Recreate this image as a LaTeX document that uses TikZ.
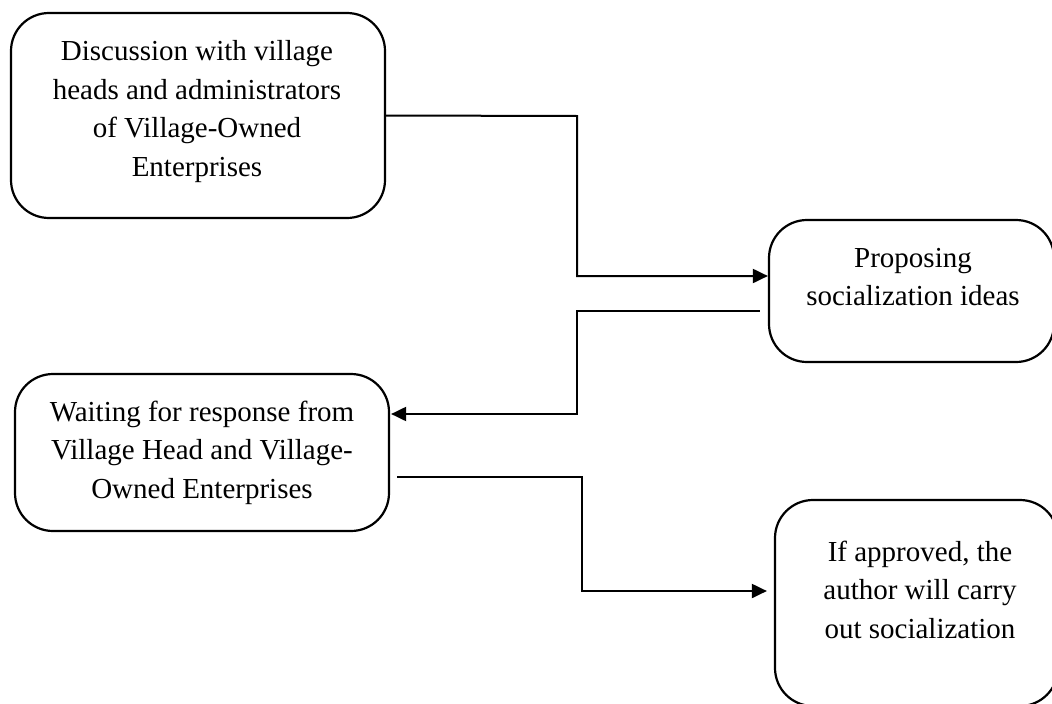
\documentclass[tikz,border=0pt]{standalone}
\usepackage{fontspec}
\setmainfont{Liberation Serif}
\usetikzlibrary{arrows.meta,calc}
\begin{document}
\begin{tikzpicture}[x=1pt,y=-1pt,
  boxshape/.style={draw, line width=2.2pt, rounded corners=38pt, inner sep=0pt},
  label/.style={align=center, font=\fontsize{29}{38.5}\selectfont, inner sep=0pt},
  conn/.style={line width=2pt, -{Triangle[length=15pt,width=14pt]}}]
\useasboundingbox (0,0) rectangle (1052,704);
\clip (0,0) rectangle (1052,704);
\fill[white] (0,0) rectangle (1052,704);
% boxes
\node[boxshape, minimum width=374pt, minimum height=205pt] (b1) at (198,115.5) {};
\node[boxshape, minimum width=285pt, minimum height=142pt] (b2) at (911.5,291) {};
\node[boxshape, minimum width=374pt, minimum height=157pt] (b3) at (202,452.5) {};
\node[boxshape, minimum width=283pt, minimum height=206pt] (b4) at (916.5,603) {};
% texts
\node[label] (t1) at (197,111.5) {Discussion with village\\heads and administrators\\of Village-Owned\\Enterprises};
\node[label] (t2) at (913,277) {Proposing\\socialization ideas};
\node[label] (t3) at (202,452.5) {Waiting for response from\\Village Head and Village-\\Owned Enterprises};
\node[label] (t4) at (920,589.5) {If approved, the\\author will carry\\out socialization};
% connectors
\coordinate (c1a) at (577,116);
\coordinate (c1b) at (577,276);
\draw[conn] (b1.east) -- (c1a) -- (c1b) -- ([yshift=15pt]b2.west);
\coordinate (c2a) at (577,311);
\coordinate (c2b) at (577,414);
\draw[conn] ([xshift=-8pt,yshift=-20pt]b2.west) -- (c2a) -- (c2b) -- ([xshift=1pt,yshift=38.5pt]b3.east);
\coordinate (c3a) at (582,477);
\coordinate (c3b) at (582,591);
\draw[conn] ([xshift=7pt,yshift=-24.5pt]b3.east) -- (c3a) -- (c3b) -- ([xshift=-7pt,yshift=12pt]b4.west);
\end{tikzpicture}
\end{document}
